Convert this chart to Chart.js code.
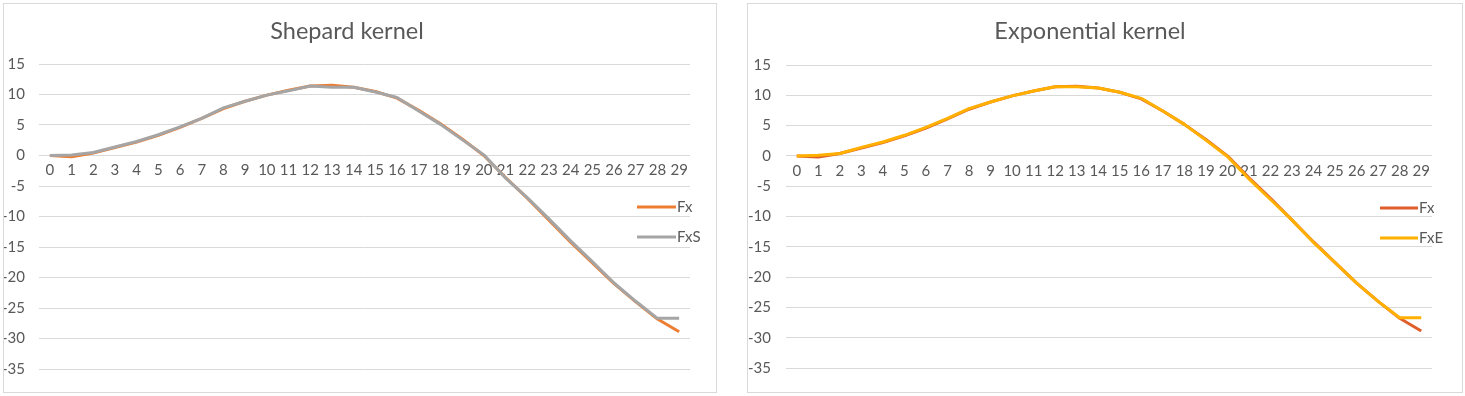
<!DOCTYPE html>
<html>
<head>
<meta charset="utf-8">
<script src="https://cdn.jsdelivr.net/npm/chart.js@4.4.1/dist/chart.umd.min.js"></script>
<style>
  html, body { margin: 0; padding: 0; background: #ffffff; width: 1465px; height: 396px; overflow: hidden; }
  .box { position: absolute; top: 3px; height: 390px; border: 1px solid #d9d9d9; box-sizing: border-box; background: #fff; }
  .box canvas { position: absolute; left: 0; top: 0; }
</style>
</head>
<body>
<div class="box" id="boxL" style="left:3px; width:714px;"><canvas id="cL" width="712" height="388" style="width:712px;height:388px"></canvas></div>
<div class="box" id="boxR" style="left:747px; width:716px;"><canvas id="cR" width="714" height="388" style="width:714px;height:388px"></canvas></div>
<script>
// ---- data ----
const categories = [0,1,2,3,4,5,6,7,8,9,10,11,12,13,14,15,16,17,18,19,20,21,22,23,24,25,26,27,28,29];
const fx  = [0, -0.2, 0.4, 1.3, 2.2, 3.3, 4.6, 6.1, 7.7, 8.9, 9.9, 10.7, 11.4, 11.5, 11.2, 10.5, 9.4, 7.4, 5.2, 2.7, 0.0, -3.6, -7.0, -10.6, -14.2, -17.6, -21.0, -24.0, -26.8, -28.9];
const fxS = [0, 0.1, 0.5, 1.4, 2.3, 3.4, 4.7, 6.1, 7.8, 8.9, 9.9, 10.6, 11.4, 11.2, 11.2, 10.4, 9.5, 7.3, 5.1, 2.6, 0.1, -3.7, -6.9, -10.4, -14.0, -17.4, -20.9, -23.9, -26.7, -26.7];
const fxE = [0, 0.1, 0.4, 1.4, 2.3, 3.4, 4.7, 6.2, 7.8, 8.9, 9.9, 10.7, 11.4, 11.4, 11.2, 10.5, 9.5, 7.4, 5.2, 2.6, -0.1, -3.8, -7.2, -10.6, -14.3, -17.6, -21.0, -24.0, -26.7, -26.7];
const yMin = -35, yMax = 15, yStep = 5;
const titles = ["Shepard kernel", "Exponential kernel"];
const seriesNames = [["Fx", "FxS"], ["Fx", "FxE"]];

const FONT = "Lato, 'Liberation Sans', sans-serif";
const TXT = "#595959";
const GRID = "#d9d9d9";

// simple line-sample legend drawn inside the plot area (Excel-style overlap)
const lineLegend = {
  id: 'lineLegend',
  afterDatasetsDraw(chart, args, opts) {
    const ctx = chart.ctx;
    ctx.save();
    chart.data.datasets.forEach((ds, i) => {
      const y = opts.ys[i];
      ctx.strokeStyle = ds.borderColor;
      ctx.lineWidth = 3;
      ctx.beginPath();
      ctx.moveTo(opts.x0, y);
      ctx.lineTo(opts.x1, y);
      ctx.stroke();
      ctx.fillStyle = TXT;
      ctx.font = "15px " + FONT;
      ctx.textAlign = 'left';
      ctx.textBaseline = 'middle';
      ctx.fillText(ds.label, opts.x1 + 1, y);
    });
    ctx.restore();
  }
};

function makeChart(id, title, datasets, cfg) {
  return new Chart(document.getElementById(id), {
    type: 'line',
    data: { labels: categories, datasets },
    options: {
      responsive: false,
      animation: false,
      devicePixelRatio: 1,
      layout: { padding: { left: 0, right: cfg.padRight, top: 0, bottom: cfg.padBottom } },
      plugins: {
        legend: { display: false },
        tooltip: { enabled: false },
        title: {
          display: true, text: title, color: TXT,
          font: { family: FONT, size: 23.5, weight: 'normal', lineHeight: 1.2 },
          padding: { top: cfg.titleTop, bottom: cfg.titleBottom }
        },
        lineLegend: cfg.legend
      },
      elements: { point: { radius: 0 }, line: { tension: 0, borderWidth: 3, borderJoinStyle: 'round' } },
      scales: {
        x: {
          type: 'category', offset: true, position: { y: 0 },
          grid: { display: false, drawTicks: false },
          border: { display: false },
          ticks: { color: TXT, font: { family: FONT, size: 15 }, autoSkip: false, maxRotation: 0, minRotation: 0, padding: 6 }
        },
        y: {
          min: yMin, max: yMax,
          afterFit(scale) { scale.width = cfg.yWidth; },
          grid: { color: GRID, lineWidth: 1, drawTicks: false },
          border: { display: false },
          ticks: { stepSize: yStep, color: TXT, font: { family: FONT, size: 15 }, padding: cfg.yPad }
        }
      }
    },
    plugins: [lineLegend]
  });
}

makeChart('cL', titles[0], [
  { label: seriesNames[0][0], data: fx,  borderColor: '#ED7D31', backgroundColor: '#ED7D31', order: 2 },
  { label: seriesNames[0][1], data: fxS, borderColor: '#A5A5A5', backgroundColor: '#A5A5A5', order: 1 }
], { padRight: 26, padBottom: 23, titleTop: 12.9, titleBottom: 18.9, yWidth: 35, yPad: 14,
     legend: { x0: 633, x1: 672, ys: [203, 233] } });

makeChart('cR', titles[1], [
  { label: seriesNames[1][0], data: fx,  borderColor: '#DF5F2A', backgroundColor: '#DF5F2A', order: 2 },
  { label: seriesNames[1][1], data: fxE, borderColor: '#FFB000', backgroundColor: '#FFB000', order: 1 }
], { padRight: 30, padBottom: 23, titleTop: 12.9, titleBottom: 19.9, yWidth: 38, yPad: 15,
     legend: { x0: 632, x1: 670, ys: [204, 234] } });
</script>
</body>
</html>
